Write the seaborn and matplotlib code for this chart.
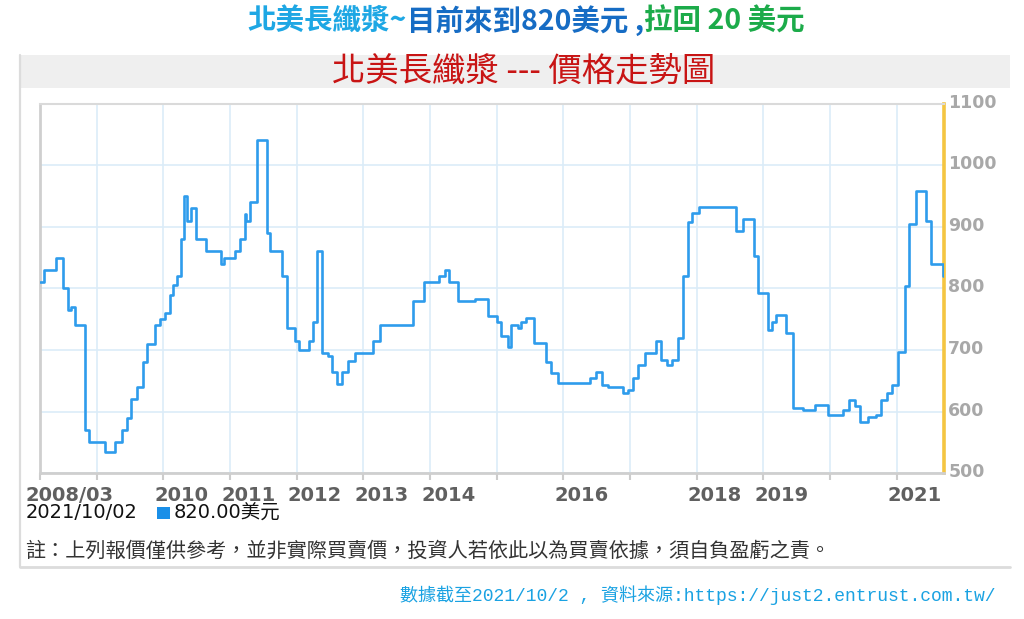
import matplotlib
matplotlib.use("Agg")
import matplotlib.pyplot as plt
import matplotlib.transforms as mtransforms
from matplotlib.patches import Rectangle
from matplotlib.lines import Line2D
import seaborn as sns
import pandas as pd

# ---------------- data ----------------
dates = [
    "2008-02-22", "2008-03-15", "2008-05-20", "2008-07-01", "2008-07-27", "2008-08-12", "2008-09-01", "2008-10-27", "2008-11-20",
    "2009-02-15", "2009-04-10", "2009-05-17", "2009-06-13", "2009-07-10", "2009-08-07", "2009-09-09", "2009-10-01", "2009-11-15", "2009-12-13",
    "2010-01-10", "2010-02-07", "2010-02-25", "2010-03-15", "2010-04-10", "2010-04-25", "2010-05-08", "2010-06-01", "2010-07-01", "2010-08-25", "2010-11-15", "2010-12-01",
    "2011-01-28", "2011-02-25", "2011-03-23", "2011-04-01", "2011-04-20", "2011-05-30", "2011-07-20", "2011-08-07", "2011-10-10", "2011-11-07", "2011-12-22",
    "2012-01-15", "2012-03-10", "2012-04-01", "2012-04-20", "2012-05-17", "2012-06-19", "2012-07-10", "2012-08-07", "2012-09-04", "2012-10-10", "2012-11-15",
    "2013-02-25", "2013-04-01", "2013-10-01", "2013-12-01",
    "2014-02-20", "2014-03-23", "2014-04-15", "2014-06-05", "2014-09-04", "2014-11-12",
    "2015-01-01", "2015-01-25", "2015-03-05", "2015-03-23", "2015-04-28", "2015-05-17", "2015-06-13", "2015-07-23", "2015-09-27", "2015-10-25", "2015-12-01",
    "2016-05-26", "2016-06-26", "2016-07-29", "2016-09-04", "2016-11-25", "2016-12-18",
    "2017-01-18", "2017-02-15", "2017-03-23", "2017-05-22", "2017-06-22", "2017-07-20", "2017-08-16", "2017-09-18", "2017-10-16", "2017-11-15", "2017-12-08",
    "2018-01-14", "2018-08-07", "2018-09-13", "2018-11-10", "2018-12-04",
    "2019-01-28", "2019-02-20", "2019-03-10", "2019-05-08", "2019-06-10", "2019-08-07", "2019-10-10", "2019-12-22",
    "2020-03-15", "2020-04-16", "2020-05-17", "2020-06-13", "2020-07-29", "2020-09-09", "2020-10-05", "2020-11-07", "2020-12-08",
    "2021-01-06", "2021-02-15", "2021-03-10", "2021-04-16", "2021-06-13", "2021-07-10", "2021-09-09", "2021-09-17",
]
prices = [
    810, 830, 850, 800, 765, 770, 740, 570, 550,
    535, 550, 570, 590, 620, 640, 680, 710, 740, 750,
    760, 790, 805, 820, 880, 950, 910, 930, 880, 860, 840, 850,
    860, 880, 920, 910, 940, 1040, 890, 860, 820, 735, 715,
    700, 715, 745, 860, 695, 690, 665, 645, 665, 683, 695,
    715, 740, 780, 810,
    820, 830, 810, 780, 783, 755,
    745, 722, 705, 740, 736, 745, 752, 711, 680, 662, 647,
    654, 664, 644, 640, 631, 635,
    654, 675, 695, 715, 684, 676, 684, 720, 820, 908, 923,
    932, 893, 912, 852, 792,
    732, 746, 757, 727, 606, 602, 611, 594,
    603, 619, 610, 584, 591, 595, 619, 630, 643,
    696, 804, 904, 958, 910, 840, 820, 820,
]
tick_dates = ["2008-02-22", "2009-01-01", "2010-01-01", "2011-01-01", "2012-01-01", "2013-01-01",
              "2014-01-01", "2015-01-01", "2016-01-01", "2017-01-01", "2018-01-01", "2019-01-01",
              "2020-01-01", "2021-01-01"]
tick_labels = ["2008/03", "", "2010", "2011", "2012", "2013", "2014", "", "2016", "", "2018", "2019", "", "2021"]
y_ticks = [500, 600, 700, 800, 900, 1000, 1100]
last_date_label = "2021/10/02"
last_price = 820.00

title_parts = ["北美長纖漿~", "目前來到820美元 ,", "拉回 20 美元"]
chart_title = "北美長纖漿 --- 價格走勢圖"
note_text = "註：上列報價僅供參考，並非實際買賣價，投資人若依此以為買賣依據，須自負盈虧之責。"
source_text = "數據截至2021/10/2 , 資料來源:https://just2.entrust.com.tw/"

# ---------------- style ----------------
sns.set_theme(style="white")
plt.rcParams["font.family"] = ["DejaVu Sans", "Noto Sans CJK TC"]

W, H = 1024, 619
fig = plt.figure(figsize=(W / 100, H / 100), dpi=100)
fig.patch.set_facecolor("white")

def fx(x):
    return x / W

def fy(y):
    return 1 - y / H

# panel background pieces
fig.add_artist(Rectangle((fx(20), fy(88)), fx(1010) - fx(20), fy(55) - fy(88),
                         transform=fig.transFigure, color="#efefef", lw=0, zorder=0))
fig.add_artist(Line2D([fx(20), fx(20)], [fy(55), fy(567)], transform=fig.transFigure,
                      color="#dcdcdc", lw=1.6, zorder=0))
fig.add_artist(Line2D([fx(20), fx(1010)], [fy(567), fy(567)], transform=fig.transFigure,
                      color="#dcdcdc", lw=2.0, zorder=0))

# axes
ax_l, ax_r, ax_t, ax_b = 39.5, 944, 103.5, 473.3
ax = fig.add_axes([fx(ax_l), fy(ax_b), fx(ax_r) - fx(ax_l), fy(ax_t) - fy(ax_b)])
ax.set_facecolor("white")

df = pd.DataFrame({"date": pd.to_datetime(dates), "price": prices})
sns.lineplot(data=df, x="date", y="price", ax=ax, color="#2e9cec", lw=1.9,
             drawstyle="steps-post", zorder=3)

ax.set_xlim(df["date"].iloc[0], df["date"].iloc[-1])
ax.set_ylim(y_ticks[0], y_ticks[-1])
ax.set_xlabel("")
ax.set_ylabel("")

ax.set_xticks(pd.to_datetime(tick_dates))
ax.set_xticklabels(tick_labels)
ax.set_yticks(y_ticks)
ax.set_yticklabels([str(v) for v in y_ticks])
ax.yaxis.tick_right()

ax.grid(True, color="#dcecf8", lw=1.2, zorder=0)
ax.tick_params(axis="x", length=5, width=1.5, color="#cccccc", direction="out", pad=4,
               labelsize=14, labelcolor="#606060", bottom=True)
ax.tick_params(axis="y", length=0, pad=3, labelsize=12.5, labelcolor="#a8a8a8",
               right=True, left=False)
for lab in ax.get_xticklabels():
    lab.set_fontweight("bold")
    lab.set_horizontalalignment("left")
for lab in ax.get_yticklabels():
    lab.set_fontweight("bold")

for side in ["left", "bottom"]:
    ax.spines[side].set_color("#cfcfcf")
    ax.spines[side].set_linewidth(2.0)
ax.spines["top"].set_color("#dadada")
ax.spines["top"].set_linewidth(1.5)
ax.spines["right"].set_color("#f4c542")
ax.spines["right"].set_linewidth(2.6)

# offsets of tick labels
xoff = mtransforms.ScaledTranslation(-0.09, 0, fig.dpi_scale_trans)
xoff0 = mtransforms.ScaledTranslation(-0.14, 0, fig.dpi_scale_trans)
for i, lab in enumerate(ax.xaxis.get_majorticklabels()):
    lab.set_transform(lab.get_transform() + (xoff0 if i == 0 else xoff))
yoff = mtransforms.ScaledTranslation(0, 0.03, fig.dpi_scale_trans)
for lab in ax.yaxis.get_majorticklabels():
    lab.set_transform(lab.get_transform() + yoff)

# ---------------- texts ----------------
cjk = ["Noto Sans CJK TC", "DejaVu Sans"]
renderer = fig.canvas.get_renderer()
colors = ["#1ea7e4", "#166cc4", "#1cab4a"]
pieces = []
for part, c in zip(title_parts, colors):
    t = fig.text(0, fy(21), part, color=c, fontsize=20.5, fontweight="bold",
                 family=cjk, ha="left", va="center")
    pieces.append(t)
widths = [t.get_window_extent(renderer).width for t in pieces]
x0 = 526 - sum(widths) / 2
for t, w in zip(pieces, widths):
    t.set_x(fx(x0))
    x0 += w

fig.text(fx(524), fy(71), chart_title, color="#c81414", fontsize=24,
         family=cjk, ha="center", va="center")

fig.text(fx(26), fy(513), last_date_label, color="#111111", fontsize=14,
         ha="left", va="center")
fig.add_artist(Rectangle((fx(157), fy(519)), fx(170) - fx(157), fy(507) - fy(519),
                         transform=fig.transFigure, color="#1a8fe8", lw=0))
fig.text(fx(174), fy(513), f"{last_price:.2f}美元", color="#111111", fontsize=14,
         family=["DejaVu Sans", "Noto Sans CJK TC"], ha="left", va="center")

fig.text(fx(25), fy(551), note_text, color="#333333", fontsize=14.5,
         family=cjk, ha="left", va="center")

fig.text(fx(995), fy(595), source_text, color="#1aa2e2", fontsize=13,
         family=["Liberation Mono", "Noto Sans CJK TC"], ha="right", va="center")

fig.savefig("out.png", dpi=100, facecolor="white")
